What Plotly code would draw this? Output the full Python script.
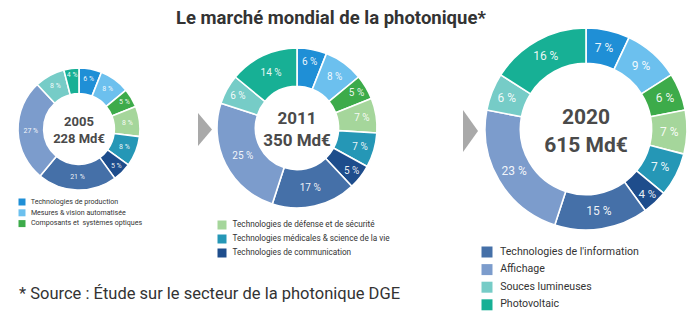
import plotly.graph_objects as go

categories = [
    "Technologies de production",
    "Mesures & vision automatisée",
    "Composants et  systèmes optiques",
    "Technologies de défense et de sécurité",
    "Technologies médicales & science de la vie",
    "Technologies de communication",
    "Technologies de l'information",
    "Affichage",
    "Souces lumineuses",
    "Photovoltaic",
]
colors = ["#1f8fd6", "#6cc0ee", "#3dab4a", "#a5d69b", "#2597b6",
          "#1e4d8c", "#4570a8", "#7c9ccc", "#76ccc7", "#17b095"]

values_2005 = [6, 8, 5, 8, 8, 5, 21, 27, 8, 4]
values_2011 = [6, 8, 5, 7, 7, 5, 17, 25, 6, 14]
values_2020 = [7, 9, 6, 7, 7, 4, 15, 23, 6, 16]
years = ["2005", "2011", "2020"]
totals = ["228 Md€", "350 Md€", "615 Md€"]

W, H = 700, 325
FONT = "Roboto"

fig = go.Figure()

# donut geometry (pixels): center x, center y, radius, hole, label size, title size
donuts = [
    (79, 129, 61, 0.58, 7, 13, values_2005),
    (297, 128, 80, 0.52, 10, 17, values_2011),
    (586, 129, 101, 0.65, 12, 21, values_2020),
]
for (cx, cy, r, hole, lsz, tsz, vals), yr, tot in zip(donuts, years, totals):
    fig.add_trace(go.Pie(
        labels=categories, values=vals, sort=False, direction="clockwise",
        rotation=0, hole=hole,
        marker=dict(colors=colors, line=dict(color="white", width=1.6)),
        texttemplate="%{value} %", textposition="inside",
        insidetextorientation="horizontal",
        textfont=dict(family=FONT, size=lsz, color="rgba(255,255,255,0.92)"),
        showlegend=False, hoverinfo="label+value",
        domain=dict(x=[(cx - r) / W, (cx + r) / W],
                    y=[1 - (cy + r) / H, 1 - (cy - r) / H]),
        title=dict(text=f"<b>{yr}<br>{tot}</b>", position="middle center",
                   font=dict(family=FONT, size=tsz, color="#4a4a4a")),
    ))

# legends drawn on a hidden page-sized axis
legend_groups = [
    (range(0, 3), 22, 202, 10.8, 7, 7.1),
    (range(3, 6), 222, 225, 14, 9, 8.2),
    (range(6, 10), 487, 252, 17.6, 11, 10.6),
]
for idxs, x0, y0, dy, msz, fsz in legend_groups:
    for k, i in enumerate(idxs):
        fig.add_trace(go.Scatter(
            x=[x0], y=[y0 + k * dy], mode="markers+text",
            marker=dict(symbol="square", size=msz, color=colors[i]),
            text=["  " + categories[i]], textposition="middle right",
            textfont=dict(family=FONT, size=fsz, color="#333333"),
            showlegend=False, hoverinfo="skip", cliponaxis=False,
        ))

# arrows
for (x0, x1, ya, yb) in [(198, 212, 113, 146), (463, 478, 110, 152)]:
    fig.add_shape(type="path", xref="x", yref="y",
                  path=f"M {x0},{ya} L {x1},{(ya + yb) / 2} L {x0},{yb} Z",
                  fillcolor="#a9a9a9", line=dict(width=0))

fig.add_annotation(x=331, y=18, xref="x", yref="y", showarrow=False,
                   text="<b>Le marché mondial de la photonique*</b>",
                   font=dict(family=FONT, size=18.5, color="#333333"))
fig.add_annotation(x=17, y=293, xref="x", yref="y", showarrow=False,
                   xanchor="left",
                   text="* Source : Étude sur le secteur de la photonique DGE",
                   font=dict(family=FONT, size=16.5, color="#333333"))

fig.update_layout(
    width=W, height=H, margin=dict(l=0, r=0, t=0, b=0),
    paper_bgcolor="white", plot_bgcolor="rgba(0,0,0,0)",
    xaxis=dict(range=[0, W], visible=False, domain=[0, 1], fixedrange=True),
    yaxis=dict(range=[H, 0], visible=False, domain=[0, 1], fixedrange=True),
    showlegend=False,
)

fig.write_html("out.html")
